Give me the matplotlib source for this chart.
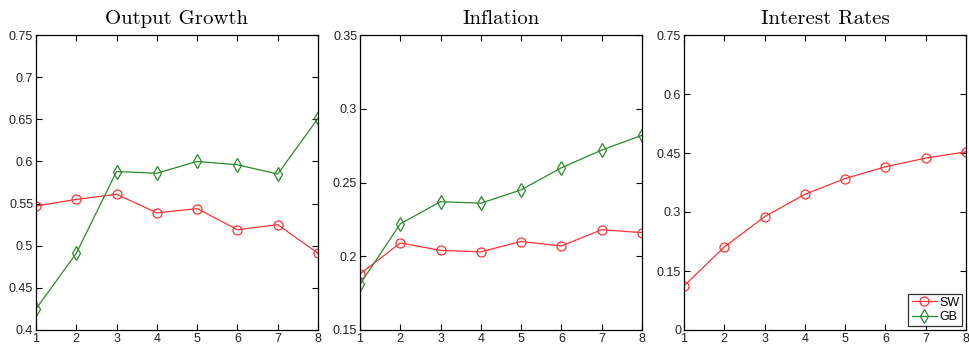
import matplotlib
matplotlib.use("Agg")
import matplotlib.pyplot as plt
import numpy as np

horizons = [1, 2, 3, 4, 5, 6, 7, 8]

titles = ["Output Growth", "Inflation", "Interest Rates"]

sw_output = [0.547, 0.555, 0.561, 0.539, 0.544, 0.519, 0.525, 0.491]
gb_output = [0.425, 0.491, 0.588, 0.586, 0.600, 0.596, 0.585, 0.651]

sw_infl = [0.188, 0.209, 0.204, 0.203, 0.210, 0.207, 0.218, 0.216]
gb_infl = [0.181, 0.222, 0.237, 0.236, 0.245, 0.260, 0.272, 0.282]

sw_rate = [0.112, 0.211, 0.288, 0.345, 0.385, 0.415, 0.437, 0.453]
gb_rate = [np.nan] * 8  # GB has no interest rate forecasts

yticks = [
    [0.4, 0.45, 0.5, 0.55, 0.6, 0.65, 0.7, 0.75],
    [0.15, 0.2, 0.25, 0.3, 0.35],
    [0, 0.15, 0.3, 0.45, 0.6, 0.75],
]
yticklabels = [
    ["0.4", "0.45", "0.5", "0.55", "0.6", "0.65", "0.7", "0.75"],
    ["0.15", "0.2", "0.25", "0.3", "0.35"],
    ["0", "0.15", "0.3", "0.45", "0.6", "0.75"],
]

sw_series = [sw_output, sw_infl, sw_rate]
gb_series = [gb_output, gb_infl, gb_rate]

tick_font = ["Liberation Sans Narrow", "Liberation Sans", "DejaVu Sans"]

fig = plt.figure(figsize=(9.69, 3.5), dpi=100)
lefts = [36, 360, 684]
width = 282
for i in range(3):
    ax = fig.add_axes([lefts[i] / 969, 20 / 350, width / 969, 295 / 350])
    ax.plot(horizons, sw_series[i], color="#ff3333", lw=0.9, marker="o",
            ms=6.5, mfc="none", mec="#ff3333", mew=0.9, label="SW")
    ax.plot(horizons, gb_series[i], color="#2a8a2a", lw=0.9, marker="d",
            ms=7.5, mfc="none", mec="#2a8a2a", mew=0.9, label="GB")
    ax.set_xlim(1, 8)
    ax.set_ylim(yticks[i][0], yticks[i][-1])
    ax.set_xticks(horizons)
    ax.set_yticks(yticks[i])
    ax.set_yticklabels(yticklabels[i])
    ax.tick_params(direction="in", top=True, right=True, length=4, width=0.8,
                   labelsize=9, pad=2)
    for lab in ax.get_xticklabels() + ax.get_yticklabels():
        lab.set_family(tick_font)
        lab.set_color("#222222")
    for sp in ax.spines.values():
        sp.set_linewidth(0.9)
    ax.set_title(titles[i], family=["cmr10", "DejaVu Serif"], fontsize=15, pad=8)
    if i == 2:
        leg = ax.legend(loc="lower right", fancybox=False, edgecolor="black",
                        borderpad=0.25, handlelength=2.0, handletextpad=0.2,
                        labelspacing=0.2, borderaxespad=0.3,
                        prop={"family": tick_font, "size": 9})
        leg.get_frame().set_linewidth(0.9)

fig.savefig("out.png", dpi=100)
